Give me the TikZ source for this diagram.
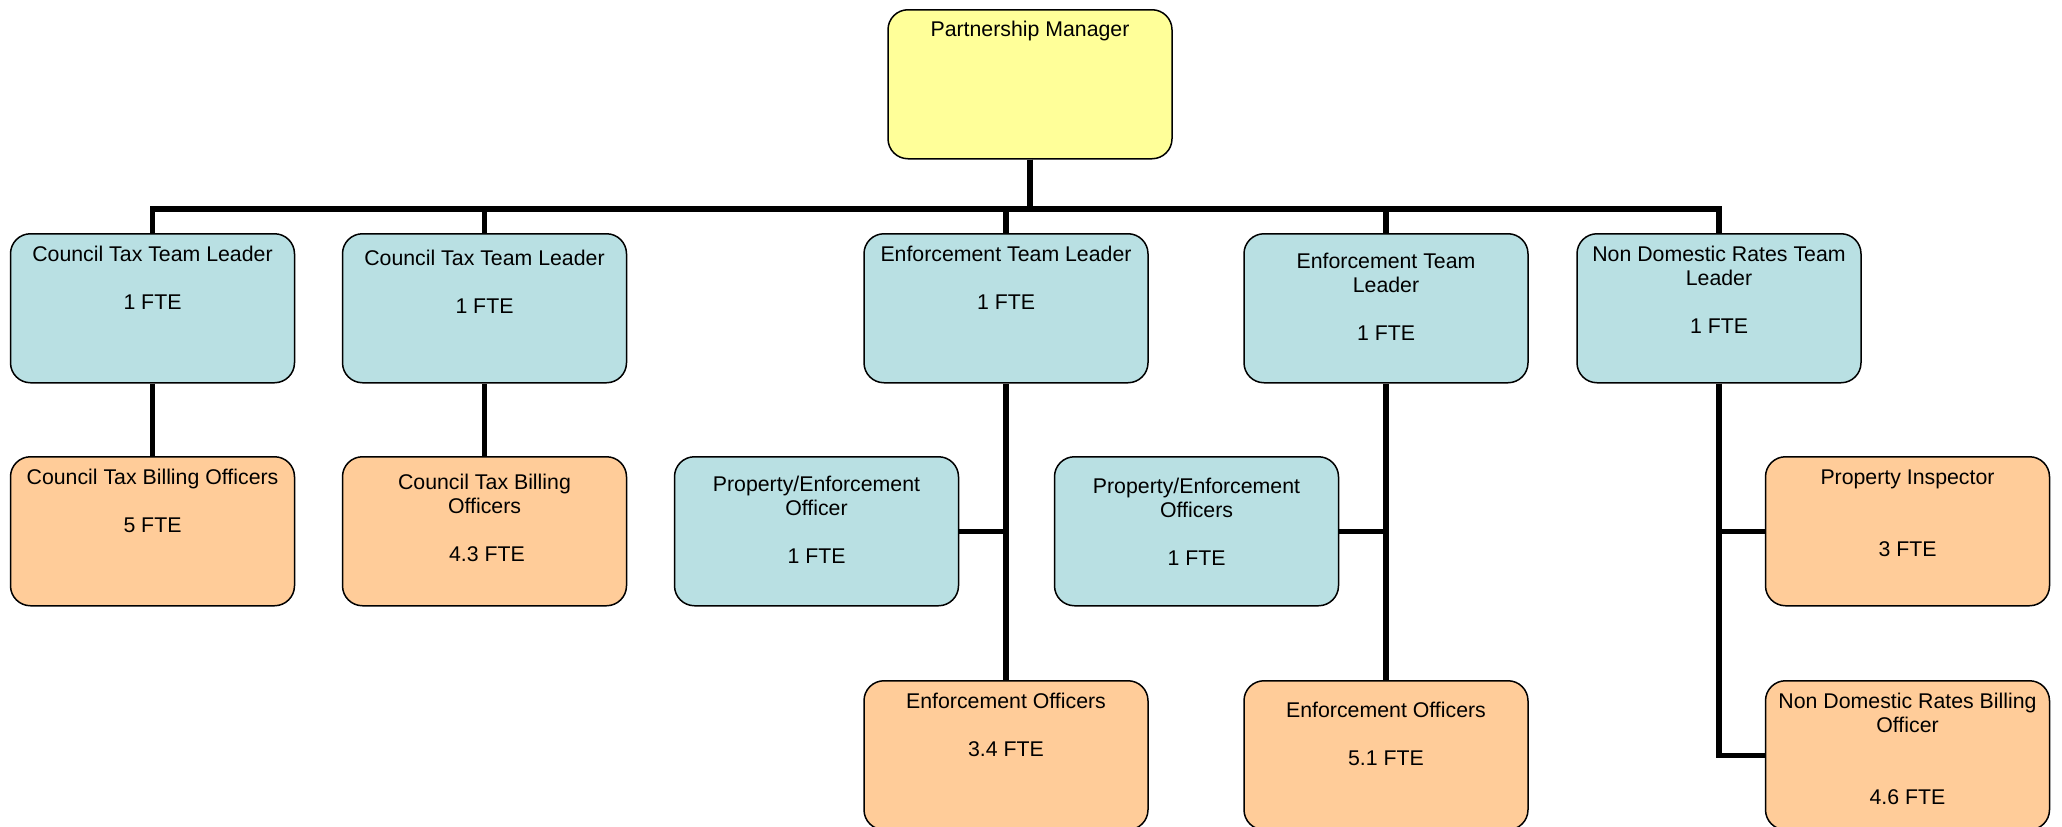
\documentclass[tikz,border=0pt]{standalone}
\usepackage{fontspec}
\setmainfont{Liberation Sans}
\usetikzlibrary{positioning}

\definecolor{mgryellow}{RGB}{255,255,153}
\definecolor{leadblue}{RGB}{185,224,227}
\definecolor{staffpeach}{RGB}{255,204,153}

\newcommand{\boxlines}[2][11]{\parbox[t][149pt][t]{280pt}{\centering\vspace*{#1pt}\strut#2}}

\tikzset{
	orgbox/.style={draw, line width=1.5pt, rounded corners=20pt, inner sep=0pt,
		minimum width=284pt, minimum height=149pt, anchor=north,
		font=\fontsize{21.3}{24}\selectfont},
	mgr/.style={orgbox, fill=mgryellow},
	lead/.style={orgbox, fill=leadblue},
	staff/.style={orgbox, fill=staffpeach},
	link/.style={line width=5.5pt}
}

\begin{document}
\begin{tikzpicture}[x=1pt, y=1pt, node distance=72.5pt]

	\useasboundingbox (0,0) rectangle (2062,-827);

	\node[mgr] (pm) at (1030,-9) {\boxlines[10]{Partnership Manager}};

	\node[lead] (ct1) at (152.5,-233) {\boxlines{Council Tax Team Leader\\[24pt]1 FTE}};
	\node[lead] (ct2) at (484.5,-233) {\boxlines[15]{Council Tax Team Leader\\[24pt]1 FTE}};
	\node[lead] (etl1) at (1006,-233) {\boxlines{Enforcement Team Leader\\[24pt]1 FTE}};
	\node[lead] (etl2) at (1386,-233) {\boxlines[18]{Enforcement Team\\Leader\\[24pt]1 FTE}};
	\node[lead] (ndr) at (1719,-233) {\boxlines{Non Domestic Rates Team\\Leader\\[24pt]1 FTE}};

	\node[staff, below=of ct1] (ctb1) {\boxlines{Council Tax Billing Officers\\[24pt]5 FTE}};
	\node[staff, below=of ct2] (ctb2) {\boxlines[16]{Council Tax Billing\\Officers\\[24pt]\hspace*{5pt}4.3 FTE}};
	\node[lead] (pe1) at (816.5,-456) {\boxlines[18]{Property/Enforcement\\Officer\\[24pt]1 FTE}};
	\node[lead] (pe2) at (1196.5,-456) {\boxlines[20]{Property/Enforcement\\Officers\\[24pt]1 FTE}};
	\node[staff] (pi) at (1907.5,-456) {\boxlines{Property Inspector\\[48pt]3 FTE}};

	\node[staff] (eo1) at (1006,-680) {\boxlines{Enforcement Officers\\[24pt]3.4 FTE}};
	\node[staff] (eo2) at (1386,-680) {\boxlines[20]{Enforcement Officers\\[24pt]5.1 FTE}};
	\node[staff] (ndrb) at (1907.5,-680) {\boxlines{Non Domestic Rates Billing\\Officer\\[48pt]4.6 FTE}};

	\coordinate (bus) at (0,-209);
	\foreach \n in {ct1,ct2,etl1,etl2,ndr}
		\draw[link] (pm.south) |- (bus -| \n.north) -- (\n.north);

	\draw[link] (ct1.south) -- (ctb1.north);
	\draw[link] (ct2.south) -- (ctb2.north);
	\draw[link] (etl1.south) -- (eo1.north);
	\draw[link] (pe1.east) -- (pe1.east -| etl1.south);
	\draw[link] (etl2.south) -- (eo2.north);
	\draw[link] (pe2.east) -- (pe2.east -| etl2.south);
	\draw[link] (ndr.south) |- (pi.west);
	\draw[link] (ndr.south) |- (ndrb.west);

\end{tikzpicture}
\end{document}
